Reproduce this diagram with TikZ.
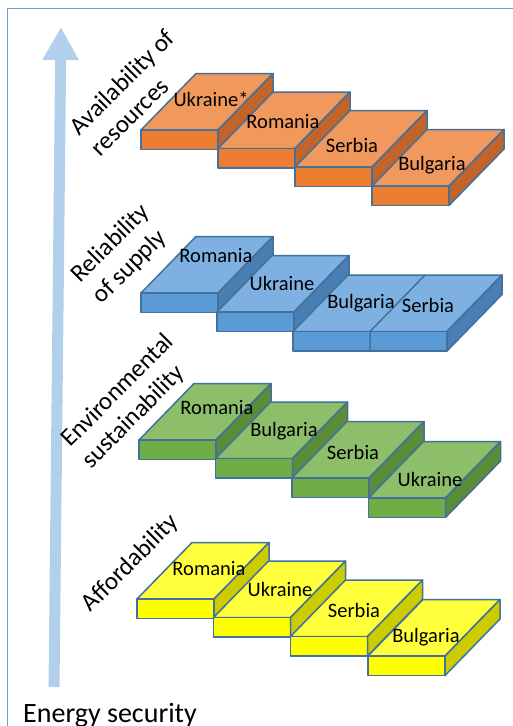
\documentclass[tikz,border=0pt]{standalone}
\usepackage{fontspec}
\setmainfont{Carlito}
\usetikzlibrary{arrows.meta}
\definecolor{framecol}{HTML}{6A9FD8}
\definecolor{arrowcol}{HTML}{B2CFEC}
\definecolor{edgecol}{HTML}{41719C}
\definecolor{orF}{HTML}{ED7D31}\definecolor{orT}{HTML}{F1985C}\definecolor{orS}{HTML}{C2642A}
\definecolor{blF}{HTML}{5B9BD5}\definecolor{blT}{HTML}{7EB1E2}\definecolor{blS}{HTML}{4A7FB3}
\definecolor{grF}{HTML}{70AD47}\definecolor{grT}{HTML}{8DBF6B}\definecolor{grS}{HTML}{5B8C3A}
\definecolor{yeF}{HTML}{FFFF00}\definecolor{yeT}{HTML}{FFFF3C}\definecolor{yeS}{HTML}{CCCC00}
\tikzset{
  slabline/.style={draw=edgecol, line width=1.5pt, line join=round},
  slablabel/.style={inner sep=0pt, font=\fontsize{20.5}{24}\selectfont, text=black},
  axislabel/.style={inner sep=0pt, rotate=45, align=left, font=\fontsize{25}{30}\selectfont, text=black},
}
% #1 x, #2 y (front top left), #3 width, #4 front, #5 top, #6 side
\newcommand\slabdraw[6]{%
  \filldraw[slabline, fill=#5] (#1,#2) -- ++(55,-56.5) -- ++(#3,0) -- ++(-55,56.5) -- cycle;
  \filldraw[slabline, fill=#4] (#1,#2) rectangle ++(#3,19.5);
  \filldraw[slabline, fill=#6] ({#1+#3},#2) -- ++(55,-56.5) -- ++(0,19.5) -- ++(-55,56.5) -- cycle;
}
\begin{document}
\begin{tikzpicture}[x=1pt,y=-1pt]
\useasboundingbox (0,0) rectangle (512,726);
% frame
\draw[framecol, line width=1.5pt] (7.5,730) -- (7.5,8.5) -- (515,8.5);
% axis arrow
\coordinate (abot) at (54,687);
\coordinate (atop) at (61,27);
\draw[arrowcol, line width=11pt, -{Triangle[width=34pt,length=33pt]}] (abot) -- (atop);
\node[anchor=base west, inner sep=0pt, font=\fontsize{28}{30}\selectfont] (es) at (23,722) {Energy security};
% axis labels
\node[axislabel] (lav) at (132.5,92.5) {Availability of\\resources};
\node[axislabel] (lre) at (121.5,254.5) {Reliability\\of supply};
\node[axislabel] (len) at (128.5,401.5) {Environmental\\sustainability};
\node[axislabel] (laf) at (130.5,563.5) {Affordability};
% orange group
\slabdraw{141}{130}{77}{orF}{orT}{orS}
\slabdraw{218}{148.5}{77}{orF}{orT}{orS}
\slabdraw{295}{167}{77}{orF}{orT}{orS}
\slabdraw{372}{186}{77}{orF}{orT}{orS}
\node[slablabel] (o1) at (211,99) {Ukraine*};
\node[slablabel] (o2) at (283,122) {Romania};
\node[slablabel] (o3) at (352,145) {Serbia};
\node[slablabel] (o4) at (432,165) {Bulgaria};
% blue group
\slabdraw{141}{293}{77}{blF}{blT}{blS}
\slabdraw{217}{312}{77}{blF}{blT}{blS}
\slabdraw{293}{331.5}{154}{blF}{blT}{blS}
\draw[slabline] (370,351) -- (370,331.5) -- ++(55,-56.5);
\node[slablabel] (b1) at (216,256) {Romania};
\node[slablabel] (b2) at (282,283) {Ukraine};
\node[slablabel] (b3) at (361,303) {Bulgaria};
\node[slablabel] (b4) at (428,305) {Serbia};
% green group
\slabdraw{139}{440}{77}{grF}{grT}{grS}
\slabdraw{215.5}{458.5}{77}{grF}{grT}{grS}
\slabdraw{292}{478}{77}{grF}{grT}{grS}
\slabdraw{368.5}{498}{77}{grF}{grT}{grS}
\node[slablabel] (g1) at (217,408) {Romania};
\node[slablabel] (g2) at (284,431) {Bulgaria};
\node[slablabel] (g3) at (353,452) {Serbia};
\node[slablabel] (g4) at (430,479) {Ukraine};
% yellow group
\slabdraw{137}{599}{77}{yeF}{yeT}{yeS}
\slabdraw{213.5}{617.5}{77}{yeF}{yeT}{yeS}
\slabdraw{290.5}{636.5}{77}{yeF}{yeT}{yeS}
\slabdraw{368}{656}{77}{yeF}{yeT}{yeS}
\node[slablabel] (y1) at (209,569) {Romania};
\node[slablabel] (y2) at (280,589) {Ukraine};
\node[slablabel] (y3) at (354,610) {Serbia};
\node[slablabel] (y4) at (426,637) {Bulgaria};
\end{tikzpicture}
\end{document}
